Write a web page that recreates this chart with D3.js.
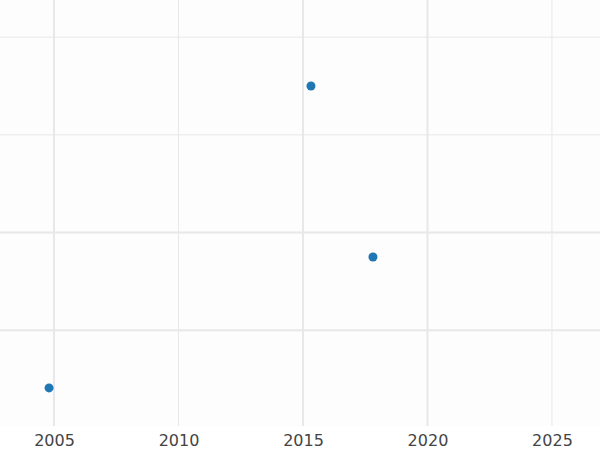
<!DOCTYPE html>
<html><head><meta charset="utf-8">
<script src="https://cdn.jsdelivr.net/npm/d3@7"></script>
<style>body{margin:0;background:#fff}</style></head>
<body><svg id="c" width="600" height="450"></svg>
<script>
const years = [2004.8, 2015.32, 2017.81];
const values = [0.41, 3.5, 1.75];
const xTicks = [2005, 2010, 2015, 2020, 2025];
const yGrid = [1, 2, 3, 4];
const majorX = [2005, 2015, 2020];
const majorY = [1, 2];

const svg = d3.select("#c");
const x = d3.scaleLinear().domain([2002.83, 2026.93]).range([0, 600]);
const y = d3.scaleLinear().domain([0.02, 4.37]).range([426, 1]);
svg.append("rect").attr("width",600).attr("height",426).attr("fill","#fdfdfd");
svg.selectAll(".gx").data(xTicks).enter().append("line")
  .attr("x1",d=>x(d)).attr("x2",d=>x(d)).attr("y1",0).attr("y2",426)
  .attr("stroke","#e8e8e8").attr("stroke-width",d=>majorX.includes(d)?2:1);
svg.selectAll(".gy").data(yGrid).enter().append("line")
  .attr("x1",0).attr("x2",600).attr("y1",d=>y(d)).attr("y2",d=>y(d))
  .attr("stroke","#e8e8e8").attr("stroke-width",d=>majorY.includes(d)?2:1);
const ax = svg.append("g").attr("transform","translate(0,426)")
  .call(d3.axisBottom(x).tickValues(xTicks).tickFormat(d3.format("d")).tickSize(0).tickPadding(9));
ax.select(".domain").remove();
ax.selectAll("text").attr("font-family","DejaVu Sans").attr("font-size",16).attr("fill","#444");
svg.selectAll("circle").data(years).enter().append("circle")
  .attr("cx",d=>x(d)).attr("cy",(d,i)=>y(values[i])).attr("r",4.5).attr("fill","#1f77b4");
</script></body></html>
